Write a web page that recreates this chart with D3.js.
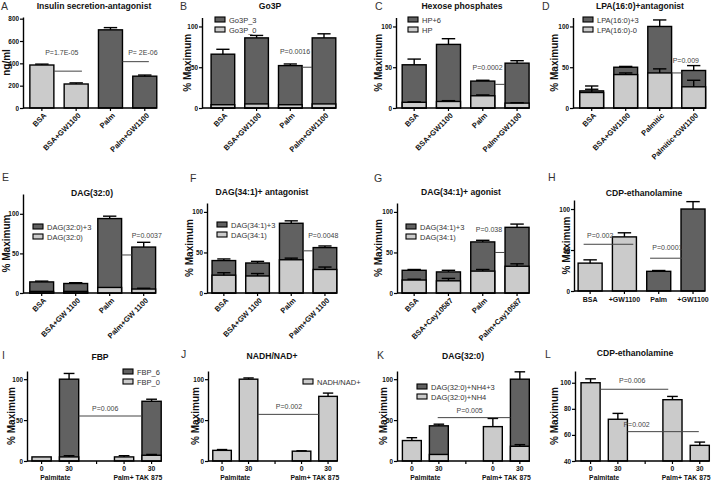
<!DOCTYPE html>
<html><head><meta charset="utf-8">
<script src="https://cdn.jsdelivr.net/npm/d3@7"></script>
<style>body{margin:0;background:#fff;} svg{display:block;font-family:"Liberation Sans",Arial,sans-serif;}</style>
</head><body><svg id="c" width="713" height="482"></svg>
<script>
// ---------- DATA ----------
const catsA = ["BSA","BSA+GW1100","Palm","Palm+GW1100"];
const insulin = [385,215,700,285];
const insulinErr = [8,10,20,10];

const catsB = ["BSA","BSA+GW1100","Palm","Palm+GW1100"];
const go3p0 = [4,5,4,5];
const go3p0Err = [0,0,0,0];
const go3p3 = [66,86,52,86];
const go3p3Err = [6,3,2,5];

const catsC = ["BSA","BSA+GW1100","Palm","Palm+GW1100"];
const hp = [7,8,15,6];
const hpErr = [0.5,1,1,0.5];
const hp6 = [53,78,33,55];
const hp6Err = [7,7,1,3];

const catsD = ["BSA","BSA+GW1100","Palmitic","Palmitic+GW1100"];
const lpa0 = [19,41,43,26];
const lpa0Err = [4,2,5,8];
const lpa3 = [21,50,100,46];
const lpa3Err = [6,1,8,6];

const catsE = ["BSA","BSA+GW 1100","Palm","Palm+GW 1100"];
const dag320 = [2,2,7,5];
const dag320Err = [0,0,0,1];
const dag3203 = [14,12,94,58];
const dag3203Err = [1,1,3,6];

const catsF = ["BSA","BSA+GW 1100","Palm","Palm+GW 1100"];
const dag341F = [22,21,41,29];
const dag341FErr = [3,3,2,3];
const dag3413F = [40,37,86,56];
const dag3413FErr = [2,2,3,2];

const catsG = ["BSA","BSA+Cay10587","Palm","Palm+Cay10587"];
const dag341G = [16,15,27,33];
const dag341GErr = [1,3,2,3];
const dag3413G = [28,26,63,81];
const dag3413GErr = [1,2,2,4];

const catsH = ["BSA","+GW1100","Palm","+GW1100"];
const cdpH = [34,66,24,100];
const cdpHErr = [4,5,1,9];

const timeTicks = ["0","30","","0","30"];
const timeGroups = ["Palmitate","Palm+ TAK 875"];

const fbp0 = [5,5,null,5,7];
const fbp0Err = [0,1.5,null,1.5,1];
const fbp6 = [null,100,null,null,73];
const fbp6Err = [null,7,null,null,2.5];

const nadh = [13,100,null,12,79];
const nadhErr = [1,1.5,null,0.5,4];

const dagK0 = [25,8,null,42,18];
const dagK0Err = [3.5,0,null,10,2];
const dagK3 = [null,43,null,null,100];
const dagK3Err = [null,2,null,null,9];

const cdpL = [100,72,null,87,52];
const cdpLErr = [3,4.5,null,2.5,2.5];

// ---------- STYLE ----------
const DARK = "#616161", LIGHT = "#cbcbcb";
const PI = 0.3;
const svg = d3.select("#c");

function panel(p) {
  const n = p.cats.length;
  const x = d3.scaleBand().domain(d3.range(n))
    .range([p.ax, p.ax + p.step * (n - PI + 2 * p.po)])
    .paddingInner(PI).paddingOuter(p.po);
  const bw = x.bandwidth();
  const y = d3.scaleLinear().domain(p.dom).range([p.y0, p.yTop]);
  const base = p.dom[0];
  const g = svg.append("g");
  const xp = (i, f) => x(i) + f * bw;

  d3.range(n).forEach(i => {
    const hi = p.hi ? p.hi[i] : null;
    const lo = p.lo[i];
    const col = p.colors ? p.colors[i] : LIGHT;
    if (hi != null) {
      g.append("rect").attr("x", x(i)).attr("width", bw)
        .attr("y", y(hi)).attr("height", y(base) - y(hi))
        .attr("fill", DARK).attr("stroke", "#000").attr("stroke-width", 1.4);
    }
    if (lo != null) {
      g.append("rect").attr("x", x(i)).attr("width", bw)
        .attr("y", y(lo)).attr("height", y(base) - y(lo))
        .attr("fill", col).attr("stroke", "#000").attr("stroke-width", 1.4);
    }
  });
  const errBar = (i, v, e) => {
    if (v == null || !e) return;
    const cx = x(i) + bw / 2, cw = bw * 0.28;
    g.append("line").attr("x1", cx).attr("x2", cx).attr("y1", y(v)).attr("y2", y(v + e))
      .attr("stroke", "#000").attr("stroke-width", 1.4);
    g.append("line").attr("x1", cx - cw).attr("x2", cx + cw).attr("y1", y(v + e)).attr("y2", y(v + e))
      .attr("stroke", "#000").attr("stroke-width", 1.4);
  };
  d3.range(n).forEach(i => {
    if (p.hi) errBar(i, p.hi[i], p.hiErr[i]);
    errBar(i, p.lo[i], p.loErr[i]);
  });

  const ya = g.append("g").attr("transform", `translate(${p.ax},0)`)
    .call(d3.axisLeft(y).tickValues(p.ticks).tickSize(3).tickSizeOuter(0).tickPadding(1));
  ya.select(".domain").attr("stroke-width", 1.4);
  ya.selectAll(".tick line").attr("stroke-width", 1.2);
  ya.selectAll(".tick text").attr("font-size", 6.4).attr("font-weight", "bold")
    .attr("font-family", "'Liberation Sans',Arial,sans-serif").attr("fill", "#111");

  const xEnd = x(n - 1) + bw;
  g.append("line").attr("x1", p.ax).attr("x2", xEnd).attr("y1", p.y0).attr("y2", p.y0)
    .attr("stroke", "#000").attr("stroke-width", 1.4);
  d3.range(n).forEach(i => {
    const cx = x(i) + bw / 2;
    g.append("line").attr("x1", cx).attr("x2", cx).attr("y1", p.y0).attr("y2", p.y0 + 3)
      .attr("stroke", "#000").attr("stroke-width", 1.2);
    if (p.xmode === "rot") {
      g.append("text").attr("transform", `translate(${cx + 5},${p.y0 + 8}) rotate(-45)`)
        .attr("text-anchor", "end").attr("font-size", 7.5).attr("font-weight", "bold")
        .attr("fill", "#111").text(p.cats[i]);
    } else if (p.xmode === "flat") {
      g.append("text").attr("x", cx).attr("y", p.y0 + 11).attr("text-anchor", "middle")
        .attr("font-size", 7).attr("font-weight", "bold").attr("fill", "#111").text(p.cats[i]);
    } else {
      g.append("text").attr("x", cx).attr("y", p.y0 + 10).attr("text-anchor", "middle")
        .attr("font-size", 6.8).attr("font-weight", "bold").attr("fill", "#111").text(p.cats[i]);
    }
  });
  if (p.groups) {
    [[0, 1], [3, 4]].forEach((pr, k) => {
      const cx = (x(pr[0]) + x(pr[1]) + bw) / 2;
      g.append("text").attr("x", cx).attr("y", p.y0 + 19).attr("text-anchor", "middle")
        .attr("font-size", 6.8).attr("font-weight", "bold").attr("fill", "#111").text(p.groups[k]);
    });
  }

  const ymid = (p.y0 + p.yTop) / 2;
  g.append("text").attr("transform", `translate(${p.ax + p.ylo},${ymid}) rotate(-90)`)
    .attr("text-anchor", "middle").attr("font-size", 10).attr("font-weight", "bold")
    .attr("fill", "#111").text(p.ylabel);

  g.append("text").attr("x", p.title[1]).attr("y", p.title[2]).attr("text-anchor", "middle")
    .attr("font-size", 8.6).attr("font-weight", "bold").attr("fill", "#111").text(p.title[0]);
  g.append("text").attr("x", p.letter[1]).attr("y", p.letter[2])
    .attr("font-size", 10.5).attr("fill", "#333").text(p.letter[0]);

  if (p.legend) {
    p.legend.items.forEach((it, k) => {
      const ly = p.legend.y + k * 10;
      g.append("rect").attr("x", p.legend.x).attr("y", ly).attr("width", 10).attr("height", 5)
        .attr("fill", it[1]).attr("stroke", "#000").attr("stroke-width", 1.1);
      g.append("text").attr("x", p.legend.x + 14).attr("y", ly + 5.5)
        .attr("font-size", 7.5).attr("fill", "#333").text(it[0]);
    });
  }

  (p.pv || []).forEach(q => {
    g.append("line").attr("x1", xp(q.a[0], q.a[1])).attr("x2", xp(q.b[0], q.b[1]))
      .attr("y1", y(q.v)).attr("y2", y(q.v)).attr("stroke", "#444").attr("stroke-width", 1);
    g.append("text").attr("x", xp(q.tx[0], q.tx[1])).attr("y", y(q.tv)).attr("text-anchor", "middle")
      .attr("font-size", 7).attr("fill", "#444").text(q.t);
  });
}

const MAX = "% Maximum";

panel({ cats: catsA, lo: insulin, loErr: insulinErr, colors: [LIGHT, LIGHT, DARK, DARK],
  ax: 23, step: 34.3, po: 0.2, y0: 108, yTop: 17, dom: [0, 815], ticks: [0,200,400,600,800],
  xmode: "rot", ylabel: "ng/ml", ylo: -13, title: ["Insulin secretion-antagonist", 94, 9], letter: ["A", 1, 10],
  pv: [{t: "P=1.7E-05", a: [0,1], b: [1,0.74], v: 330, tx: [0,1.33], tv: 475},
       {t: "P= 2E-06", a: [2,1], b: [3,0.67], v: 415, tx: [3,0.42], tv: 475}] });

panel({ cats: catsB, lo: go3p0, loErr: go3p0Err, hi: go3p3, hiErr: go3p3Err,
  ax: 202, step: 33.7, po: 0.27, y0: 108, yTop: 17.5, dom: [0, 111], ticks: [0,50,100],
  xmode: "rot", ylabel: MAX, ylo: -11, title: ["Go3P", 270, 9], letter: ["B", 180, 10],
  legend: {x: 215, y: 17, items: [["Go3P_3", DARK], ["Go3P_0", LIGHT]]},
  pv: [{t: "P=0.0016", a: [2,1], b: [3,0], v: 50, tx: [2,0.7], tv: 66}] });

panel({ cats: catsC, lo: hp, loErr: hpErr, hi: hp6, hiErr: hp6Err,
  ax: 396, step: 34.3, po: 0.18, y0: 108, yTop: 17.5, dom: [0, 111], ticks: [0,50,100],
  xmode: "rot", ylabel: MAX, ylo: -14, title: ["Hexose phosphates", 462, 9], letter: ["C", 375, 10],
  legend: {x: 408, y: 17, items: [["HP+6", DARK], ["HP", LIGHT]]},
  pv: [{t: "P=0.0002", a: [2,1], b: [3,0], v: 29, tx: [2,0.7], tv: 47}] });

panel({ cats: catsD, lo: lpa0, loErr: lpa0Err, hi: lpa3, hiErr: lpa3Err,
  ax: 573, step: 34, po: 0.2, y0: 108, yTop: 17.5, dom: [0, 111], ticks: [0,50,100],
  xmode: "rot", ylabel: MAX, ylo: -15, title: ["LPA(16:0)+antagonist", 640, 9], letter: ["D", 542, 10],
  legend: {x: 583, y: 17, items: [["LPA(16:0)+3", DARK], ["LPA(16:0)-0", LIGHT]]},
  pv: [{t: "P=0.009", a: [2,1], b: [3,0], v: 43, tx: [3,0.17], tv: 55}] });

panel({ cats: catsE, lo: dag320, loErr: dag320Err, hi: dag3203, hiErr: dag3203Err,
  ax: 23, step: 34, po: 0.2, y0: 293, yTop: 194, dom: [0, 125], ticks: [0,50,100],
  xmode: "rot", ylabel: MAX, ylo: -13, title: ["DAG(32:0)", 92, 196], letter: ["E", 2, 181],
  legend: {x: 33, y: 224, items: [["DAG(32:0)+3", DARK], ["DAG(32:0)", LIGHT]]},
  pv: [{t: "P=0.0037", a: [2,1], b: [3,0], v: 48, tx: [3,0.63], tv: 70}] });

panel({ cats: catsF, lo: dag341F, loErr: dag341FErr, hi: dag3413F, hiErr: dag3413FErr,
  ax: 207, step: 33.7, po: 0.15, y0: 293, yTop: 203, dom: [0, 111], ticks: [0,50,100],
  xmode: "rot", ylabel: MAX, ylo: -14, title: ["DAG(34:1)+ antagonist", 262, 195], letter: ["F", 190, 182],
  legend: {x: 217, y: 222, items: [["DAG(34:1)+3", DARK], ["DAG(34:1)", LIGHT]]},
  pv: [{t: "P=0.0048", a: [2,1], b: [3,0], v: 52, tx: [3,0.43], tv: 68}] });

panel({ cats: catsG, lo: dag341G, loErr: dag341GErr, hi: dag3413G, hiErr: dag3413GErr,
  ax: 397, step: 34.3, po: 0.15, y0: 293, yTop: 203, dom: [0, 111], ticks: [0,50,100],
  xmode: "rot", ylabel: MAX, ylo: -15, title: ["DAG(34:1)+ agonist", 461, 195], letter: ["G", 374, 182],
  legend: {x: 406, y: 224, items: [["DAG(34:1)+3", DARK], ["DAG(34:1)", LIGHT]]},
  pv: [{t: "P=0.038", a: [2,1], b: [3,0], v: 50, tx: [2,0.76], tv: 75}] });

panel({ cats: catsH, lo: cdpH, loErr: cdpHErr, colors: [LIGHT, LIGHT, DARK, DARK],
  ax: 574, step: 34.3, po: 0.12, y0: 291, yTop: 200, dom: [0, 111], ticks: [0,50,100],
  xmode: "flat", ylabel: MAX, ylo: -4, title: ["CDP-ethanolamine", 644, 196], letter: ["H", 548, 181],
  pv: [{t: "P=0.002", a: [0,0.23], b: [1,0.87], v: 57, tx: [0,0.92], tv: 65},
       {t: "P=0.0001", a: [2,0.14], b: [3,0.05], v: 40, tx: [2,0.86], tv: 50}] });

panel({ cats: timeTicks, groups: timeGroups, lo: fbp0, loErr: fbp0Err, hi: fbp6, hiErr: fbp6Err,
  ax: 27, step: 27.5, po: 0.18, y0: 461, yTop: 371, dom: [0, 110], ticks: [0,50,100],
  xmode: "time", ylabel: MAX, ylo: -12, title: ["FBP", 100, 360], letter: ["I", 2, 359],
  legend: {x: 123, y: 369, items: [["FBP_6", DARK], ["FBP_0", LIGHT]]},
  pv: [{t: "P=0.006", a: [1,1], b: [4,0], v: 55, tx: [2,0.95], tv: 61}] });

panel({ cats: timeTicks, groups: timeGroups, lo: nadh, loErr: nadhErr,
  ax: 208, step: 26.5, po: 0.18, y0: 461, yTop: 371, dom: [0, 110], ticks: [0,50,100],
  xmode: "time", ylabel: MAX, ylo: -9, title: ["NADH/NAD+", 272, 359], letter: ["J", 181, 358],
  legend: {x: 303, y: 379, items: [["NADH/NAD+", LIGHT]]},
  pv: [{t: "P=0.002", a: [1,1], b: [4,0], v: 57, tx: [2,1.25], tv: 63}] });

panel({ cats: timeTicks, groups: timeGroups, lo: dagK0, loErr: dagK0Err, hi: dagK3, hiErr: dagK3Err,
  ax: 397, step: 27, po: 0.2, y0: 461, yTop: 371, dom: [0, 110], ticks: [0,50,100],
  xmode: "time", ylabel: MAX, ylo: -10, title: ["DAG(32:0)", 463, 359], letter: ["K", 377, 359],
  legend: {x: 417, y: 384, items: [["DAG(32:0)+NH4+3", DARK], ["DAG(32:0)+NH4", LIGHT]]},
  pv: [{t: "P=0.005", a: [1,0.44], b: [4,0], v: 53, tx: [2,0.7], tv: 58.5}] });

panel({ cats: timeTicks, groups: timeGroups, lo: cdpL, loErr: cdpLErr,
  ax: 575, step: 27.3, po: 0.22, y0: 461, yTop: 371, dom: [40, 109], ticks: [40,60,80,100],
  xmode: "time", ylabel: MAX, ylo: -17, title: ["CDP-ethanolamine", 635, 356], letter: ["L", 545, 358],
  pv: [{t: "P=0.006", a: [0,1], b: [3,0.28], v: 95, tx: [1,1.25], tv: 100},
       {t: "P=0.002", a: [1,1], b: [4,0.45], v: 62.5, tx: [2,0.05], tv: 66}] });
</script>
</body></html>
